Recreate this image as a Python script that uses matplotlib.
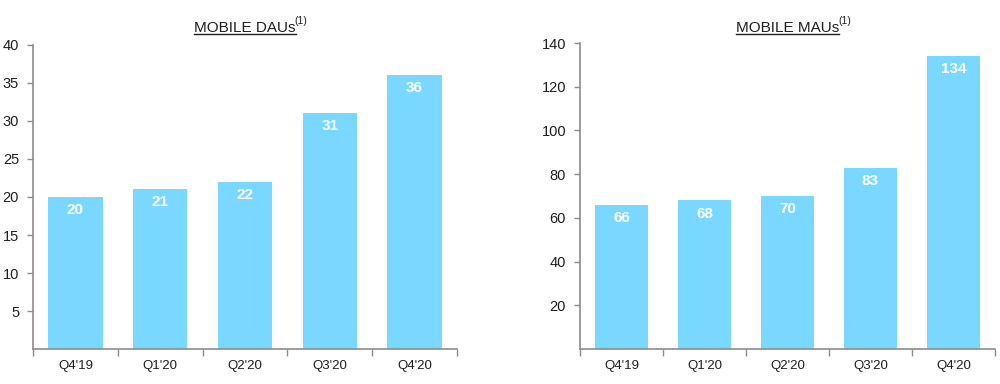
import matplotlib
matplotlib.use('Agg')
import matplotlib.pyplot as plt
from matplotlib.lines import Line2D
import numpy as np

# ---------------------------------------------------------------------------
# Data
# ---------------------------------------------------------------------------
quarters = ["Q4'19", "Q1'20", "Q2'20", "Q3'20", "Q4'20"]
dau_values = [20, 21, 22, 31, 36]
mau_values = [66, 68, 70, 83, 134]

dau_ticks = [5, 10, 15, 20, 25, 30, 35, 40]
mau_ticks = [20, 40, 60, 80, 100, 120, 140]

_BAR = '#7AD7FF'
_SPINE = '#8C8C8C'
_TEXT = '#1E1E1E'

plt.rcParams['font.family'] = ['Liberation Sans', 'DejaVu Sans']


def _bar_panel(fig, rect, values, ymax, yticks, title, label_off):
    ax = fig.add_axes(rect)
    x = np.arange(len(values))
    bars = ax.bar(x, values, width=0.64, color=_BAR, linewidth=0)
    ax.set_xlim(-0.5, len(values) - 0.5)
    ax.set_ylim(0, ymax)
    ax.set_yticks(yticks)
    ax.set_xticks(x)
    ax.set_xticklabels(quarters)
    # category boundary ticks on the x axis
    ax.set_xticks(np.arange(len(values) + 1) - 0.5, minor=True)
    ax.tick_params(axis='x', which='major', length=0, pad=8,
                   labelsize=9.5, labelcolor=_TEXT)
    ax.tick_params(axis='x', which='minor', length=5, color=_SPINE, width=1)
    ax.tick_params(axis='y', length=4, color=_SPINE, width=1, pad=6,
                   labelsize=10.5, labelcolor=_TEXT)
    for s in ('top', 'right'):
        ax.spines[s].set_visible(False)
    for s in ('left', 'bottom'):
        ax.spines[s].set_color(_SPINE)
        ax.spines[s].set_linewidth(1.2)

    for bar, v in zip(bars, values):
        ax.text(bar.get_x() + bar.get_width() / 2, v - label_off, f'{v}',
                ha='center', va='center', color='white',
                fontsize=11, fontweight='bold')

    # underlined title with superscript footnote marker
    cx = rect[0] + rect[2] * 0.50
    t = fig.text(cx, 0.917, title, ha='center', va='baseline',
                 fontsize=11, color=_TEXT)
    fig.canvas.draw()
    bb = t.get_window_extent().transformed(fig.transFigure.inverted())
    fig.add_artist(Line2D([bb.x0, bb.x1], [0.911, 0.911],
                          color=_TEXT, linewidth=1.0))
    fig.text(bb.x1 - 0.001, 0.938, '(1)', ha='left', va='baseline',
             fontsize=7.5, color=_TEXT)
    return ax


fig = plt.figure(figsize=(10, 3.84), dpi=100)
_bar_panel(fig, [0.033, 0.091, 0.424, 0.792], dau_values, 40, dau_ticks,
           'MOBILE DAUs', 1.7)
_bar_panel(fig, [0.580, 0.091, 0.415, 0.797], mau_values, 140, mau_ticks,
           'MOBILE MAUs', 6.0)

fig.savefig('out.png', dpi=100)
